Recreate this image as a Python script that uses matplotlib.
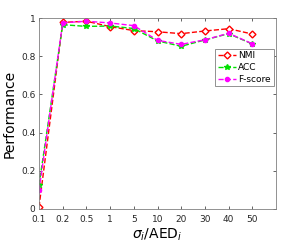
import matplotlib.pyplot as plt

x_labels = ["0.1", "0.2", "0.5", "1", "5", "10", "20", "30", "40", "50"]
nmi = [0.01, 0.977, 0.983, 0.955, 0.934, 0.928, 0.918, 0.932, 0.944, 0.916]
acc = [0.126, 0.965, 0.956, 0.958, 0.945, 0.880, 0.852, 0.885, 0.918, 0.864]
fscore = [0.098, 0.975, 0.983, 0.974, 0.960, 0.883, 0.862, 0.886, 0.920, 0.865]

xs = list(range(1, len(x_labels) + 1))

fig = plt.figure(figsize=(3.05, 2.46), dpi=100)
ax = fig.add_axes([39 / 305, 37 / 246, 237 / 305, 191 / 246])

ax.plot(xs, nmi, color="red", linestyle="--", marker="D", markersize=3.5,
        markerfacecolor="white", markeredgecolor="red", markeredgewidth=1.0,
        linewidth=1.0, label="NMI")
ax.plot(xs, acc, color="#00e000", linestyle="--", marker="*", markersize=4,
        linewidth=1.0, label="ACC")
ax.plot(xs, fscore, color="magenta", linestyle="--", marker="o", markersize=3,
        linewidth=1.0, label="F-score")

ax.set_xlim(1, 11)
ax.set_ylim(0, 1)
ax.set_xticks(xs)
ax.set_xticklabels(x_labels)
ax.set_yticks([0, 0.2, 0.4, 0.6, 0.8, 1])
ax.set_yticklabels(["0", "0.2", "0.4", "0.6", "0.8", "1"])
ax.tick_params(direction="in", length=2.5, width=0.5, labelsize=6.5,
               top=True, right=True, colors="#262626", pad=2.5)
ax.tick_params(axis="x", pad=4.5)
for s in ax.spines.values():
    s.set_color("#808080")
    s.set_linewidth(0.6)

ax.set_xlabel("$\\sigma_i$/AED$_i$", fontsize=10, labelpad=2)
ax.set_ylabel("Performance", fontsize=10, labelpad=3)

leg = ax.legend(loc="upper right", bbox_to_anchor=(0.99, 0.84), fontsize=6.5,
                fancybox=False, framealpha=1, borderpad=0.3, labelspacing=0.3,
                handlelength=2.0, handletextpad=0.3, borderaxespad=0)
leg.get_frame().set_edgecolor("#808080")
leg.get_frame().set_linewidth(0.6)

fig.savefig("out.png", dpi=100)
